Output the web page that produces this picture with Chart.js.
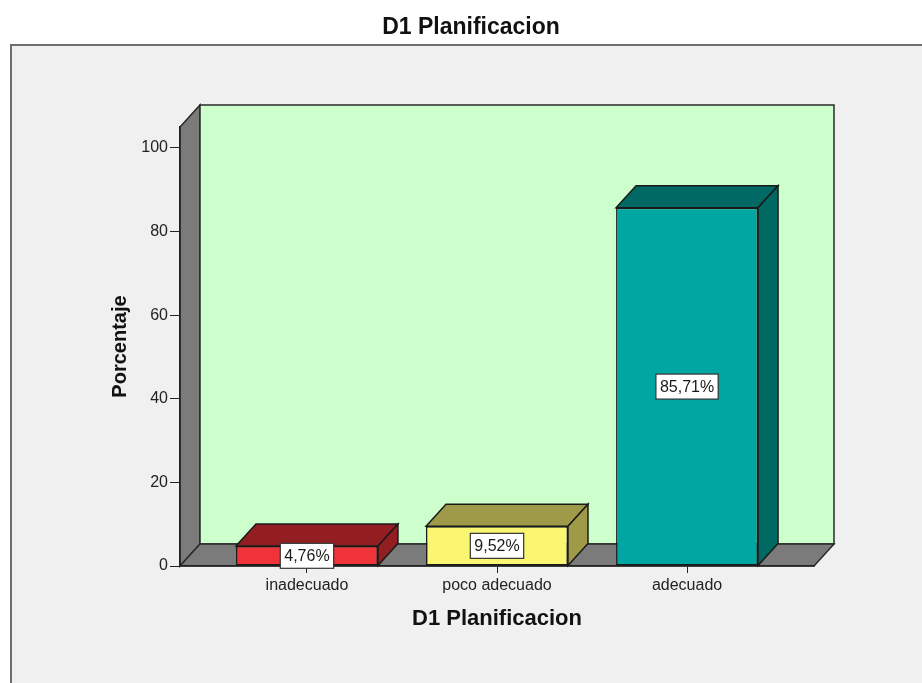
<!DOCTYPE html>
<html>
<head>
<meta charset="utf-8">
<title>D1 Planificacion</title>
<script src="https://cdn.jsdelivr.net/npm/chart.js@4.4.0/dist/chart.umd.min.js"></script>
<style>
  body { margin: 0; background: #ffffff; }
  canvas { display: block; }
</style>
</head>
<body>
<canvas id="myChart" width="922" height="683"></canvas>
<script>
// data
const categories = ["inadecuado", "poco adecuado", "adecuado"];
const percentages = [4.76, 9.52, 85.71];
const yTicks = [0, 20, 40, 60, 80, 100];

const frontColors = ["#ef3339", "#fbf672", "#00a7a2"];
const sideColors = ["#921e22", "#9f9a48", "#006964"];

// 3D depth offset of the box, in pixels
const depthX = 20;
const depthY = -22;
const fontFamily = "'Liberation Sans', Arial, sans-serif";

function poly(ctx, pts, fill, stroke) {
  ctx.beginPath();
  ctx.moveTo(pts[0][0], pts[0][1]);
  for (let i = 1; i < pts.length; i++) ctx.lineTo(pts[i][0], pts[i][1]);
  ctx.closePath();
  ctx.fillStyle = fill;
  ctx.fill();
  ctx.strokeStyle = stroke;
  ctx.lineWidth = 1.5;
  ctx.stroke();
}

const box3d = {
  id: "box3d",
  beforeDraw(chart) {
    const ctx = chart.ctx;
    const { left, right, top, bottom } = chart.chartArea;
    ctx.save();
    ctx.fillStyle = "#ffffff";
    ctx.fillRect(0, 0, chart.width, chart.height);
    // grey panel
    ctx.fillStyle = "#f0f0f0";
    ctx.fillRect(10, 44, chart.width, chart.height);
    ctx.strokeStyle = "#6e6e6e";
    ctx.lineWidth = 2;
    ctx.beginPath();
    ctx.moveTo(11, chart.height);
    ctx.lineTo(11, 45);
    ctx.lineTo(chart.width, 45);
    ctx.stroke();

    // left wall, back wall, floor
    poly(ctx, [[left, top], [left + depthX, top + depthY], [left + depthX, bottom + depthY], [left, bottom]], "#7b7b7b", "#2a2a2a");
    poly(ctx, [[left + depthX, top + depthY], [right + depthX, top + depthY], [right + depthX, bottom + depthY], [left + depthX, bottom + depthY]], "#ccffcc", "#2a2a2a");
    poly(ctx, [[left, bottom], [left + depthX, bottom + depthY], [right + depthX, bottom + depthY], [right, bottom]], "#7b7b7b", "#2a2a2a");

    // chart title
    ctx.fillStyle = "#111111";
    ctx.font = "bold 23px " + fontFamily;
    ctx.textAlign = "center";
    ctx.textBaseline = "middle";
    ctx.fillText("D1 Planificacion", 471, 28);
    ctx.restore();
  },
  afterDatasetsDraw(chart) {
    const ctx = chart.ctx;
    const meta = chart.getDatasetMeta(0);
    ctx.save();
    meta.data.forEach((bar, i) => {
      const { x, y, base, width } = bar.getProps(["x", "y", "base", "width"], true);
      const l = x - width / 2;
      const r = x + width / 2;
      // top and side faces
      poly(ctx, [[l, y], [l + depthX, y + depthY], [r + depthX, y + depthY], [r, y]], sideColors[i], "#1a1a1a");
      poly(ctx, [[r, y], [r + depthX, y + depthY], [r + depthX, base + depthY], [r, base]], sideColors[i], "#1a1a1a");

      // value label box
      const text = percentages[i].toFixed(2).replace(".", ",") + "%";
      ctx.font = "16px " + fontFamily;
      const tw = ctx.measureText(text).width;
      const cy = (y + base) / 2;
      const bw = tw + 8;
      const bh = 25;
      ctx.fillStyle = "#ffffff";
      ctx.fillRect(x - bw / 2, cy - bh / 2, bw, bh);
      ctx.strokeStyle = "#333333";
      ctx.lineWidth = 1.2;
      ctx.strokeRect(x - bw / 2, cy - bh / 2, bw, bh);
      ctx.fillStyle = "#1a1a1a";
      ctx.textAlign = "center";
      ctx.textBaseline = "middle";
      ctx.fillText(text, x, cy + 1);
    });
    ctx.restore();
  },
};

const ctx1 = document.getElementById("myChart").getContext("2d");

new Chart(ctx1, {
  type: "bar",
  data: {
    datasets: [
      {
        label: "Porcentaje",
        data: percentages.map((v, i) => ({ x: i, y: v })),
        backgroundColor: frontColors,
        borderColor: "#1a1a1a",
        borderWidth: 1.5,
        borderSkipped: false,
        categoryPercentage: 1,
        barPercentage: 0.747,
      },
    ],
  },
  options: {
    responsive: false,
    animation: false,
    layout: { padding: { left: 0, right: 108, top: 127, bottom: 0 } },
    plugins: {
      legend: { display: false },
      title: { display: false },
      tooltip: { enabled: false },
    },
    scales: {
      x: {
        type: "linear",
        offset: false,
        min: -0.668,
        max: 2.668,
        afterBuildTicks: (axis) => {
          axis.ticks = categories.map((c, i) => ({ value: i }));
        },
        afterFit: (scale) => {
          scale.height = 117;
        },
        ticks: {
          callback: (value, index) => categories[index],
          color: "#222222",
          font: { family: fontFamily, size: 16 },
          padding: 3,
          maxRotation: 0,
        },
        grid: { offset: false, drawOnChartArea: false, tickLength: 7, color: "#222222" },
        border: { display: true, color: "#222222", width: 1.5 },
        title: {
          display: true,
          text: "D1 Planificacion",
          color: "#111111",
          font: { family: fontFamily, size: 22, weight: "bold" },
          padding: { top: 0, bottom: 51 },
        },
      },
      y: {
        min: 0,
        max: 105,
        afterBuildTicks: (axis) => {
          axis.ticks = yTicks.map((v) => ({ value: v }));
        },
        afterFit: (scale) => {
          scale.width = 180;
        },
        ticks: {
          color: "#222222",
          font: { family: fontFamily, size: 16 },
          padding: 2,
        },
        grid: { drawOnChartArea: false, tickLength: 10, color: "#222222" },
        border: { display: true, color: "#222222", width: 1.5 },
        title: {
          display: true,
          text: "Porcentaje",
          color: "#111111",
          font: { family: fontFamily, size: 20, weight: "bold" },
          padding: { top: 108, bottom: 0 },
        },
      },
    },
  },
  plugins: [box3d],
});
</script>
</body>
</html>
